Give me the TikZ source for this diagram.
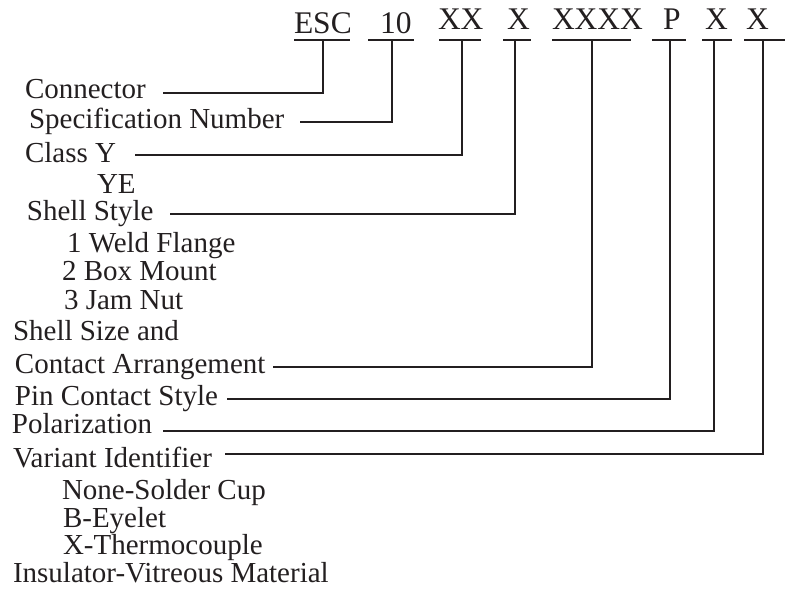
\documentclass[tikz,border=0pt]{standalone}
\usepackage{fontspec}
\setmainfont{Liberation Serif}
\definecolor{ink}{RGB}{35,31,32}
\begin{document}
\begin{tikzpicture}[x=1pt,y=-1pt,
  lbl/.style={anchor=base west,inner sep=0pt,outer sep=0pt,text=ink,font=\fontsize{29}{34}\selectfont},
  hdr/.style={anchor=base west,inner sep=0pt,outer sep=0pt,text=ink,font=\fontsize{31.5}{36}\selectfont},
  wire/.style={draw=ink,line width=1.7pt},
]
\useasboundingbox (0,0) rectangle (785,589);

% header codes
\node[hdr] (esc)  at (294,33) {ESC};
\node[hdr] (ten)  at (380,33) {10};
\node[hdr] (xx)   at (438,29) {XX};
\node[hdr] (xa)   at (507,29) {X};
\node[hdr] (xxxx) at (552,29) {XXXX};
\node[hdr] (pp)   at (663,29) {P};
\node[hdr] (xb)   at (705,29) {X};
\node[hdr] (xc)   at (746,29) {X};

% underlines
\draw[wire] (294,40) -- (350,40);
\draw[wire] (368,40) -- (414,40);
\draw[wire] (439,40) -- (481,40);
\draw[wire] (503,40) -- (531,40);
\draw[wire] (552,40) -- (631,40);
\draw[wire] (652,40) -- (686,40);
\draw[wire] (702,40) -- (732,40);
\draw[wire] (744,40) -- (785,40);

% tick points
\coordinate (tesc)  at (323,40);
\coordinate (tten)  at (392,40);
\coordinate (txx)   at (462,40);
\coordinate (txa)   at (515,40);
\coordinate (txxxx) at (592,40);
\coordinate (tpp)   at (670,40);
\coordinate (txb)   at (714,40);
\coordinate (txc)   at (763,40);

% labels
\node[lbl] (conn)  at (25,98)  {Connector};
\node[lbl] (spec)  at (29,128) {Specification Number};
\node[lbl] (cls)   at (25,162) {Class Y};
\node[lbl] (ye)    at (97,193) {YE};
\node[lbl] (shst)  at (27,220) {Shell Style};
\node[lbl] (weld)  at (67,252) {1 Weld Flange};
\node[lbl] (box)   at (62,280) {2 Box Mount};
\node[lbl] (jam)   at (64,309) {3 Jam Nut};
\node[lbl] (size)  at (13,340) {Shell Size and};
\node[lbl] (arr)   at (15,373) {Contact Arrangement};
\node[lbl] (pin)   at (15,405) {Pin Contact Style};
\node[lbl] (pol)   at (12,433) {Polarization};
\node[lbl] (var)   at (13,467) {Variant Identifier};
\node[lbl] (none)  at (62,499) {None-Solder Cup};
\node[lbl] (eye)   at (63,527) {B-Eyelet};
\node[lbl] (therm) at (63,554) {X-Thermocouple};
\node[lbl] (ins)   at (13,582) {Insulator-Vitreous Material};

% connector start points
\coordinate (sconn) at (163,93);
\coordinate (sspec) at (300,122);
\coordinate (scls)  at (135,155);
\coordinate (sshst) at (170,214);
\coordinate (sarr)  at (273,367);
\coordinate (spin)  at (227,399);
\coordinate (spol)  at (163,431);
\coordinate (svar)  at (225,454);

\draw[wire] (sconn) -| (tesc);
\draw[wire] (sspec) -| (tten);
\draw[wire] (scls)  -| (txx);
\draw[wire] (sshst) -| (txa);
\draw[wire] (sarr)  -| (txxxx);
\draw[wire] (spin)  -| (tpp);
\draw[wire] (spol)  -| (txb);
\draw[wire] (svar)  -| (txc);
\end{tikzpicture}
\end{document}
